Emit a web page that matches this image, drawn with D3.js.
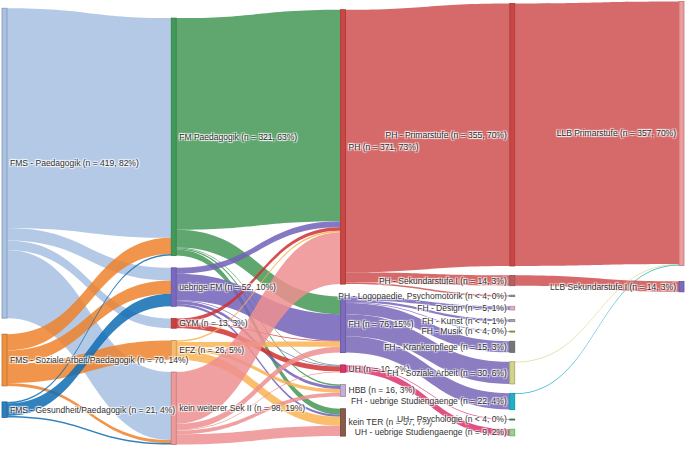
<!DOCTYPE html>
<html><head><meta charset="utf-8">
<script src="https://cdn.jsdelivr.net/npm/d3@7"></script>
<style>
html,body{margin:0;padding:0;background:#fff;}
svg text{font-family:Arial,"Liberation Sans",sans-serif;font-size:8.5px;fill:#333;
text-shadow:1px 1px 1px #fff,-1px -1px 1px #fff,1px -1px 1px #fff,-1px 1px 1px #fff;}
</style></head><body>
<svg id="chart" width="685" height="456"></svg>
<script>
// ---------------- DATA ----------------
const nodeNames = [
  "FMS - Paedagogik","FMS - Soziale Arbeit/Paedagogik","FMS - Gesundheit/Paedagogik",
  "FM Paedagogik","uebrige FM","GYM","EFZ","kein weiterer Sek II",
  "PH","FH","UH","HBB","kein TER",
  "PH - Primarstufe","PH - Sekundarstufe I","PH - Logopaedie, Psychomotorik",
  "FH - Design","FH - Kunst","FH - Musik","FH - Krankenpflege","FH - Soziale Arbeit",
  "FH - uebrige Studiengaenge","UH - Psychologie","UH - uebrige Studiengaenge",
  "LLB Primarstufe","LLB Sekundarstufe I"
];
const nodeLabels = [
  "FMS - Paedagogik (n = 419, 82%)","FMS - Soziale Arbeit/Paedagogik (n = 70, 14%)","FMS - Gesundheit/Paedagogik (n = 21, 4%)",
  "FM Paedagogik (n = 321, 63%)","uebrige FM (n = 52, 10%)","GYM (n = 13, 3%)","EFZ (n = 26, 5%)","kein weiterer Sek II (n = 98, 19%)",
  "PH (n = 371, 73%)","FH (n = 76, 15%)","UH (n = 10, 2%)","HBB (n = 16, 3%)","kein TER (n = 37, 7%)",
  "PH - Primarstufe (n = 355, 70%)","PH - Sekundarstufe I (n = 14, 3%)","PH - Logopaedie, Psychomotorik (n < 4, 0%)",
  "FH - Design (n = 5, 1%)","FH - Kunst (n < 4, 1%)","FH - Musik (n < 4, 0%)","FH - Krankenpflege (n = 15, 3%)","FH - Soziale Arbeit (n = 30, 6%)",
  "FH - uebrige Studiengaenge (n = 22, 4%)","UH - Psychologie (n < 4, 0%)","UH - uebrige Studiengaenge (n = 9, 2%)",
  "LLB Primarstufe (n = 357, 70%)","LLB Sekundarstufe I (n = 14, 3%)"
];
const linkSources = [0,0,0,0, 1,1,1,1, 2,2,2, 3,3,3,3,3, 4,4,4,4,4, 5,5,5, 6,6,6,6, 7,7,7,7,7, 8,8,8, 9,9,9,9,9,9, 10,10, 13,14,20,21];
const linkTargets = [3,4,5,7, 3,4,6,7, 3,4,7, 8,9,10,11,12, 8,9,10,11,12, 8,9,10, 8,9,11,12, 8,9,10,11,12, 13,14,15, 16,17,18,19,20,21, 22,23, 24,25,24,24];
const linkValues  = [297,17,13,92, 22,18,26,4, 2,17,2, 286,24,1,2,8, 8,36,1,4,3, 5,1,7, 2,7,5,12, 70,8,1,5,14, 355,14,2, 5,3,1,15,30,22, 1,9, 355,14,1,1];

// ---------------- STYLE ----------------
const nodeColors = ["#a9c1e2","#f0913f","#2f7fbd","#3f9a58","#7a68bf","#cf3f3f","#f7bb70","#ee9a9a",
  "#cc4444","#7d6bc0","#d8346f","#c3b0d8","#8a5a4c",
  "#cc4444","#b86060","#8898b0","#eeaacc","#a8a8b8","#a8a828","#777777","#d4d488","#18b4c8","#3a9a3a","#8fd68a",
  "#ee9a9a","#7d6bc0"];
const linkColors = ["#a7bfe2","#ed832b","#0e6cb3","#439756","#7260b8","#cf3131","#f9b354","#ed8f8f",
  "#cf5050","#7866b8","#dc316c","#b3a1d0","#8a5a4c",
  "#cf5050","#cf5050","#8898b0","#eeaacc","#a8a8b8","#a8a828","#777777","#d6d683","#00a7be","#3a9a3a","#8fd68a",
  "#ee9a9a","#7d6bc0"];
const linkOpacity = 0.85;
const cfg = {x0: 2, x1: 684, y0: 1, y1: 452, nodeWidth: 5, pad: 6, padMax: 16, scalePad: 11.3, iterations: 2, damping: 0.1};

// ---------------- LAYOUT (sankey relaxation, per-column spacing) ----------------
function sankeyLayout() {
  const nodes = nodeNames.map((name, index) => ({index, name, label: nodeLabels[index], sourceLinks: [], targetLinks: []}));
  const links = linkValues.map((value, index) => ({index, value, source: nodes[linkSources[index]], target: nodes[linkTargets[index]]}));
  for (const l of links) { l.source.sourceLinks.push(l); l.target.targetLinks.push(l); }
  for (const n of nodes) n.value = Math.max(d3.sum(n.sourceLinks, l => l.value), d3.sum(n.targetLinks, l => l.value));
  let current = new Set(nodes), next = new Set(), depth = 0;
  while (current.size) {
    for (const n of current) { n.depth = depth; for (const l of n.sourceLinks) next.add(l.target); }
    depth++; current = next; next = new Set();
  }
  const xScale = d3.scaleLinear().domain([0, depth - 1]).range([cfg.x0, cfg.x1 - cfg.nodeWidth]);
  const columns = Array.from({length: depth}, () => []);
  for (const n of nodes) { n.x0 = xScale(n.depth); n.x1 = n.x0 + cfg.nodeWidth; columns[n.depth].push(n); }
  const ky = d3.min(columns, c => (cfg.y1 - cfg.y0 - (c.length - 1) * cfg.scalePad) / d3.sum(c, n => n.value));
  const yScale = d3.scaleLinear().domain([0, 1]).range([0, ky]);
  for (const l of links) l.width = yScale(l.value);
  for (const c of columns) {
    const free = cfg.y1 - cfg.y0 - yScale(d3.sum(c, n => n.value));
    c.pad = Math.max(cfg.pad, Math.min(cfg.padMax, free / (c.length + 1)));
  }
  columns.forEach(c => c.forEach((n, i) => { n.y0 = i; n.y1 = i + yScale(n.value); }));
  const center = n => (n.y0 + n.y1) / 2;
  function resolve() {
    for (const c of columns) {
      const py = c.pad;
      let y = cfg.y0, node;
      for (node of c) { const dy = y - node.y0; if (dy > 0) { node.y0 += dy; node.y1 += dy; } y = node.y1 + py; }
      let dy = y - py - cfg.y1;
      if (dy > 0) {
        node = c[c.length - 1]; node.y0 -= dy; node.y1 -= dy; y = node.y0;
        for (let i = c.length - 2; i >= 0; --i) {
          node = c[i]; dy = node.y1 + py - y;
          if (dy > 0) { node.y0 -= dy; node.y1 -= dy; }
          y = node.y0;
        }
      }
    }
  }
  resolve();
  let alpha = cfg.damping;
  for (let k = 0; k < cfg.iterations; k++) {
    alpha *= 0.99;
    for (const c of columns.slice().reverse()) for (const n of c) {
      if (!n.sourceLinks.length) continue;
      const y = d3.sum(n.sourceLinks, l => center(l.target) * l.value) / d3.sum(n.sourceLinks, l => l.value);
      const dy = (y - center(n)) * alpha; n.y0 += dy; n.y1 += dy;
    }
    resolve();
    for (const c of columns) for (const n of c) {
      if (!n.targetLinks.length) continue;
      const y = d3.sum(n.targetLinks, l => center(l.source) * l.value) / d3.sum(n.targetLinks, l => l.value);
      const dy = (y - center(n)) * alpha; n.y0 += dy; n.y1 += dy;
    }
    resolve();
  }
  for (const n of nodes) {
    n.sourceLinks.sort((a, b) => a.target.y0 - b.target.y0 || a.index - b.index);
    n.targetLinks.sort((a, b) => a.source.y0 - b.source.y0 || a.index - b.index);
  }
  for (const n of nodes) {
    let a = n.y0, b = n.y0;
    for (const l of n.sourceLinks) { l.y0 = a + l.width / 2; a += l.width; }
    for (const l of n.targetLinks) { l.y1 = b + l.width / 2; b += l.width; }
  }
  return {nodes, links};
}

const graph = sankeyLayout();
const svg = d3.select("#chart");
const W = +svg.attr("width");

function linkShape(l) {
  const x0 = l.source.x1, x1 = l.target.x0;
  const xi = d3.interpolateNumber(x0, x1), xa = xi(0.5), xb = xi(0.5);
  const w = l.width / 2;
  const p = d3.path();
  p.moveTo(x0, l.y0 - w);
  p.bezierCurveTo(xa, l.y0 - w, xb, l.y1 - w, x1, l.y1 - w);
  p.lineTo(x1, l.y1 + w);
  p.bezierCurveTo(xb, l.y1 + w, xa, l.y0 + w, x0, l.y0 + w);
  p.closePath();
  return p.toString();
}

svg.append("g").selectAll("path").data(graph.links).join("path")
  .attr("d", linkShape)
  .attr("fill", d => linkColors[d.source.index])
  .attr("fill-opacity", linkOpacity);

svg.append("g").selectAll("rect").data(graph.nodes).join("rect")
  .attr("x", d => d.x0).attr("y", d => d.y0)
  .attr("width", d => d.x1 - d.x0).attr("height", d => Math.max(1, d.y1 - d.y0))
  .attr("fill", d => nodeColors[d.index])
  .attr("stroke", d => d3.color(nodeColors[d.index]).darker(0.7))
  .attr("stroke-width", 0.8);

svg.append("g").selectAll("text").data(graph.nodes).join("text")
  .attr("x", d => d.x0 < W / 2 ? d.x1 + 3 : d.x0 - 3)
  .attr("y", d => (d.y0 + d.y1) / 2)
  .attr("dy", "0.35em")
  .attr("text-anchor", d => d.x0 < W / 2 ? "start" : "end")
  .text(d => d.label);
</script></body></html>
